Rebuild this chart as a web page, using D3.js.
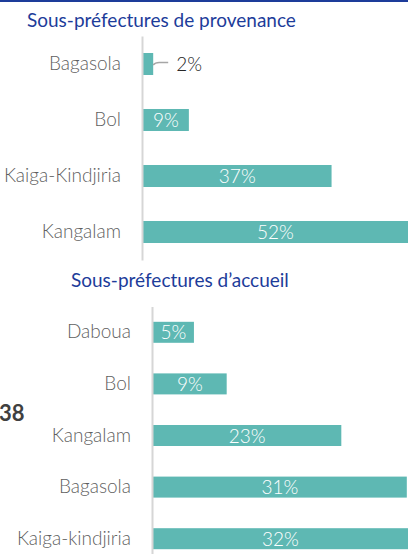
<!DOCTYPE html>
<html>
<head>
<meta charset="utf-8">
<script src="https://cdn.jsdelivr.net/npm/d3@7"></script>
<style>
  body { margin: 0; background: #fff; }
  svg { display: block; }
</style>
</head>
<body>
<div id="chart"></div>
<script>
// data
var provCategories = ["Bagasola", "Bol", "Kaiga-Kindjiria", "Kangalam"];
var provValues = [2, 9, 37, 52];
var accCategories = ["Daboua", "Bol", "Kangalam", "Bagasola", "Kaiga-kindjiria"];
var accValues = [5, 9, 23, 31, 32];

var width = 408, height = 554;
var teal = "#5eb8b3", blue = "#1d3c9a", labelGrey = "#5f5f5f";
var font = "Lato, 'Open Sans', sans-serif";

var svg = d3.select("#chart")
  .append("svg")
  .attr("width", width)
  .attr("height", height)
  .style("font-family", font);

// top blue rule
svg.append("rect")
  .attr("x", 0).attr("y", 0)
  .attr("width", width).attr("height", 2)
  .attr("fill", blue);

// stray "38" from the page next door
svg.append("text")
  .attr("x", -1).attr("y", 421)
  .attr("fill", "#404040")
  .attr("font-weight", "bold")
  .style("font-size", "22px")
  .text("38");

function drawPanel(opts) {
  var g = svg.append("g");

  g.append("text")
    .attr("x", opts.titleX)
    .attr("y", opts.titleY)
    .attr("fill", blue)
    .style("font-size", "19px")
    .text(opts.title);

  var y = d3.scaleBand()
    .domain(opts.categories)
    .range(opts.yRange)
    .paddingInner(opts.pad)
    .paddingOuter(opts.pad / 2);

  var x = d3.scaleLinear()
    .domain(opts.xDomain)
    .range(opts.xRange);

  var data = opts.categories.map(function (c, i) { return { cat: c, v: opts.values[i] }; });

  g.selectAll("rect.bar")
    .data(data)
    .enter()
    .append("rect")
    .attr("class", "bar")
    .attr("x", x(0))
    .attr("y", function (d) { return y(d.cat); })
    .attr("width", function (d) { return x(d.v) - x(0); })
    .attr("height", y.bandwidth())
    .attr("fill", teal);

  var axis = g.append("g")
    .attr("transform", "translate(" + (x(0) - 1) + ",0)")
    .call(d3.axisLeft(y).tickSize(0).tickSizeOuter(0).tickPadding(21));
  axis.select(".domain")
    .attr("stroke", "#d6d6d6")
    .attr("stroke-width", 2);
  axis.selectAll("text")
    .attr("fill", labelGrey)
    .attr("font-family", font)
    .attr("font-weight", 300)
    .style("font-size", "19px");

  // value labels
  data.forEach(function (d) {
    var cy = y(d.cat) + y.bandwidth() / 2;
    if (d.v < opts.insideMin) {
      var x1 = x(d.v);
      g.append("path")
        .attr("d", "M" + x1 + "," + (cy + 1) + " Q" + (x1 + 2) + "," + (cy - 1.5) +
          " " + (x1 + 6) + "," + (cy - 1.5) + " L" + (x1 + 15) + "," + (cy - 1.5))
        .attr("fill", "none")
        .attr("stroke", "#a6a6a6")
        .attr("stroke-width", 1.5);
      g.append("text")
        .attr("x", x1 + 23)
        .attr("y", cy + 6.5)
        .attr("fill", "#262626")
        .attr("font-weight", 300)
        .style("font-size", "19px")
        .text(d.v + "%");
    } else {
      g.append("text")
        .attr("x", (x(0) + Math.min(x(d.v), width)) / 2)
        .attr("y", cy + 7)
        .attr("fill", "#fff")
        .attr("font-weight", 300)
        .style("font-size", "19px")
        .style("text-anchor", "middle")
        .text(d.v + "%");
    }
  });
}

drawPanel({
  title: "Sous-préfectures de provenance",
  titleX: 27, titleY: 26.5,
  categories: provCategories, values: provValues,
  yRange: [36, 260], pad: 0.607,
  xDomain: [0, 52], xRange: [143, 408],
  insideMin: 5
});

drawPanel({
  title: "Sous-préfectures d\u2019accueil",
  titleX: 71, titleY: 286.5,
  categories: accCategories, values: accValues,
  yRange: [306.5, 564.5], pad: 0.593,
  xDomain: [0, 32], xRange: [153, 415],
  insideMin: 3
});
</script>
</body>
</html>
